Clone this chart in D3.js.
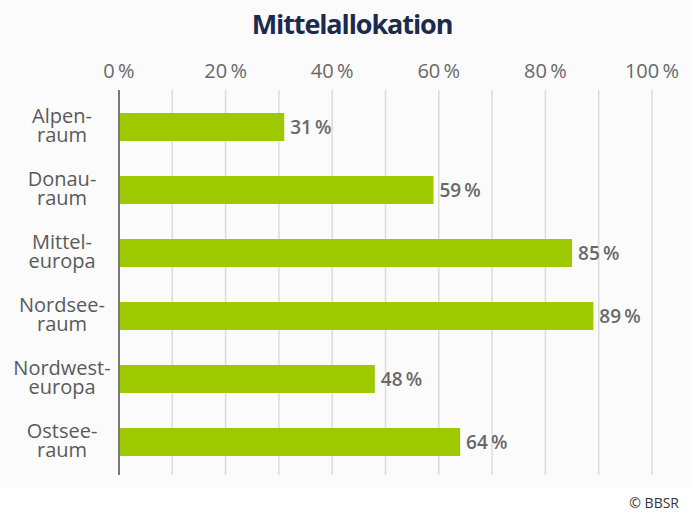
<!DOCTYPE html>
<html>
<head>
<meta charset="utf-8">
<script src="https://cdn.jsdelivr.net/npm/d3@7"></script>
<style>
  html, body { margin: 0; padding: 0; background: #fff; }
  svg { display: block; font-family: 'Open Sans', sans-serif; }
</style>
</head>
<body>
<div id="chart"></div>
<script>
const categories = [['Alpen-', 'raum'], ['Donau-', 'raum'], ['Mittel-', 'europa'], ['Nordsee-', 'raum'], ['Nordwest-', 'europa'], ['Ostsee-', 'raum']];
const values = [31, 59, 85, 89, 48, 64];
const tickValues = [0, 20, 40, 60, 80, 100];
const gridValues = [10, 20, 30, 40, 50, 60, 70, 80, 90, 100];

const width = 692, height = 513;
const svg = d3.select('#chart').append('svg')
  .attr('width', width)
  .attr('height', height);

// light panel behind the chart
svg.append('rect')
  .attr('x', 0).attr('y', 0)
  .attr('width', width).attr('height', 488)
  .attr('fill', '#fbfbfb');

const x = d3.scaleLinear().domain([0, 100]).range([119, 652]);
const y = d3.scaleBand()
  .domain(categories.map((d, i) => i))
  .range([95.5, 473.5])
  .paddingInner(0.556)
  .paddingOuter(0.278);

// Title
svg.append('text')
  .attr('x', 352).attr('y', 34)
  .attr('text-anchor', 'middle')
  .attr('font-size', 27)
  .attr('font-weight', 700)
  .attr('letter-spacing', -1.1)
  .attr('fill', '#1c2a4d')
  .text('Mittelallokation');

// Gridlines
svg.append('g').selectAll('line').data(gridValues).join('line')
  .attr('x1', d => x(d)).attr('x2', d => x(d))
  .attr('y1', 90).attr('y2', 475)
  .attr('stroke', '#dcdcdc')
  .attr('stroke-width', 1.5);

// Top tick labels
svg.append('g').selectAll('text').data(tickValues).join('text')
  .attr('x', d => x(d)).attr('y', 78)
  .attr('text-anchor', 'middle')
  .attr('font-size', 20)
  .attr('fill', '#686868')
  .text(d => d + '\u2009%');

// Bars
svg.append('g').selectAll('rect').data(values).join('rect')
  .attr('x', x(0))
  .attr('y', (d, i) => y(i))
  .attr('width', d => x(d) - x(0))
  .attr('height', y.bandwidth())
  .attr('fill', '#9ec800');

// Value labels
svg.append('g').selectAll('text').data(values).join('text')
  .attr('x', d => x(d) + 6)
  .attr('y', (d, i) => y(i) + y.bandwidth() / 2 + 6.5)
  .attr('font-size', 19)
  .attr('font-weight', 600)
  .attr('fill', '#686868')
  .text(d => d + '\u2009%');

// Vertical axis line
svg.append('line')
  .attr('x1', x(0)).attr('x2', x(0))
  .attr('y1', 90).attr('y2', 475)
  .attr('stroke', '#7a7a7a')
  .attr('stroke-width', 2);

// Category labels (two lines each)
const cat = svg.append('g').selectAll('text').data(categories).join('text')
  .attr('text-anchor', 'middle')
  .attr('font-size', 20)
  .attr('fill', '#5a5a5a');
cat.each(function (d, i) {
  const cy = y(i) + y.bandwidth() / 2;
  d3.select(this).selectAll('tspan').data(d).join('tspan')
    .attr('x', 62)
    .attr('y', (t, j) => cy - 4 + j * 19)
    .text(t => t);
});

// Source
svg.append('text')
  .attr('x', 679).attr('y', 508)
  .attr('text-anchor', 'end')
  .attr('font-size', 14)
  .attr('fill', '#333')
  .text('\u00a9 BBSR');
</script>
</body>
</html>
